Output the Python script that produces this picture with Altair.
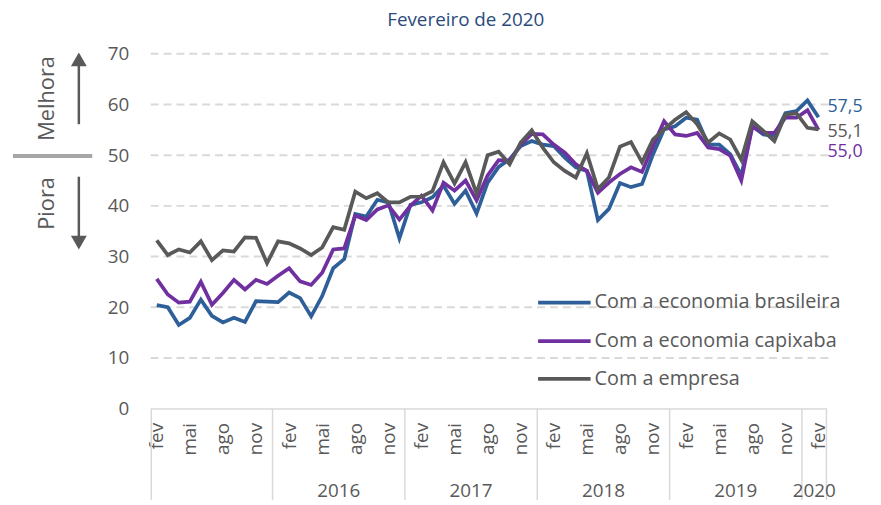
import altair as alt
import pandas as pd

# ---------------- data ----------------
month_names = ["jan", "fev", "mar", "abr", "mai", "jun", "jul", "ago", "set", "out", "nov", "dez"]
first_month_offset = 1  # index 0 = fev/2015
tick_index = list(range(0, 61, 3))

series_names = ["Com a economia brasileira", "Com a economia capixaba", "Com a empresa"]
series_colors = ["#2e5f98", "#7030a0", "#595959"]

brasileira = [20.4, 20.0, 16.5, 17.9, 21.5, 18.3, 17.0, 17.9, 17.1, 21.2, 21.1,
              21.0, 22.9, 21.8, 18.2, 22.2, 27.7, 29.5, 38.4, 37.9, 41.2, 40.7, 33.6,
              40.2, 40.7, 41.7, 44.0, 40.4, 43.0, 38.5, 44.6, 47.7, 49.2, 51.8, 52.8,
              52.1, 51.8, 49.5, 47.6, 46.9, 37.2, 39.4, 44.5, 43.7, 44.3, 50.2, 55.1,
              55.7, 57.4, 57.0, 52.1, 52.1, 50.2, 46.0, 55.7, 54.1, 53.8, 58.3, 58.7,
              60.8, 57.5]
capixaba = [25.6, 22.5, 20.9, 21.1, 25.0, 20.5, 22.8, 25.4, 23.5, 25.4, 24.6,
            26.2, 27.7, 25.1, 24.4, 26.8, 31.4, 31.6, 38.1, 37.2, 39.3, 40.1, 37.3,
            40.0, 42.0, 39.1, 44.6, 43.0, 45.0, 41.1, 46.0, 49.0, 48.9, 52.1, 54.2,
            54.1, 52.1, 50.5, 48.2, 46.9, 42.6, 44.6, 46.3, 47.6, 46.7, 51.8, 56.7,
            54.1, 53.8, 54.4, 51.5, 51.2, 49.9, 45.0, 55.7, 54.4, 54.4, 57.4, 57.4,
            58.9, 55.0]
empresa = [33.2, 30.3, 31.4, 30.8, 33.0, 29.3, 31.2, 31.0, 33.8, 33.7, 28.7,
           33.0, 32.6, 31.6, 30.3, 31.8, 35.8, 35.3, 42.8, 41.5, 42.5, 40.7, 40.7,
           41.8, 41.8, 42.9, 48.6, 44.4, 48.6, 42.4, 50.0, 50.7, 48.2, 52.5, 54.9,
           51.5, 48.6, 46.9, 45.6, 50.4, 43.3, 45.6, 51.7, 52.6, 48.6, 53.1, 55.1,
           57.0, 58.5, 56.1, 52.5, 54.3, 53.1, 49.1, 56.7, 54.8, 52.8, 58.0, 58.3,
           55.4, 55.1]
series_values = [brasileira, capixaba, empresa]

years = ["2016", "2017", "2018", "2019", "2020"]
year_bounds = [-0.5, 10.5, 22.5, 34.5, 46.5, 58.5, 60.72]
y_ticks = [0, 10, 20, 30, 40, 50, 60, 70]
grid_values = [10, 20, 30, 40, 50, 60, 70]

subtitle = "Fevereiro de 2020"
up_label = "Melhora"
down_label = "Piora"

FONT = "Open Sans"
TXT = "#595959"
X_DOMAIN = [-0.55, 60.72]

# ---------------- tables ----------------
rows = []
for name, vals in zip(series_names, series_values):
    for i, v in enumerate(vals):
        rows.append({"i": i, "v": v, "s": name})
df = pd.DataFrame(rows)

bounds_df = pd.DataFrame({"b": year_bounds})
years_df = pd.DataFrame({
    "c": [(year_bounds[k + 1] + year_bounds[k + 2]) / 2 for k in range(len(years))],
    "t": years,
})
grid_df = pd.DataFrame({"g": grid_values})

label_expr = "[" + ",".join("'%s'" % m for m in month_names) + "][(datum.value + %d) %% 12]" % first_month_offset

xscale = alt.Scale(domain=X_DOMAIN, nice=False, zero=False)
yscale = alt.Scale(domain=[0, 70], nice=False)

x_axis = alt.Axis(values=tick_index, labelExpr=label_expr, labelAngle=270, labelAlign="right",
                  labelBaseline="middle", labelFontSize=19, labelColor=TXT, labelFont=FONT,
                  labelPadding=14, domain=True, domainColor="#d9d9d9", domainWidth=1.5,
                  ticks=False, grid=False, title=None, labelOverlap=False, labelBound=False,
                  labelFlush=False)
y_axis = alt.Axis(values=y_ticks, labelFontSize=19, labelColor=TXT, labelFont=FONT,
                  labelPadding=22, domain=False, ticks=False, grid=False, title=None)


def X(field):
    return alt.X(field, scale=xscale, axis=x_axis)


def Y(field):
    return alt.Y(field, scale=yscale, axis=y_axis)


base = alt.Chart(df)

grid = alt.Chart(grid_df).mark_rule(color="#d9d9d9", strokeWidth=2, strokeDash=[8, 5]).encode(
    y=Y("g:Q"),
    x=alt.value(0), x2=alt.value(684),
)

layers = [grid]
for name, col in zip(series_names, series_colors):
    layers.append(
        base.transform_filter(alt.datum.s == name).mark_line(strokeWidth=3.75, color=col).encode(
            x=X("i:Q"),
            y=Y("v:Q"),
        )
    )

# year separators and year labels
seps = alt.Chart(bounds_df).mark_rule(color="#d9d9d9", strokeWidth=1.5).encode(
    x=X("b:Q"), y=alt.value(358), y2=alt.value(460)
)
ylabels = alt.Chart(years_df).mark_text(fontSize=19, color=TXT, font=FONT, baseline="middle").encode(
    x=X("c:Q"), y=alt.value(441), text="t:N"
)
layers += [seps, ylabels]

# end labels
end_y = {"Com a economia brasileira": 54, "Com a empresa": 79, "Com a economia capixaba": 99}
for name, col, vals in zip(series_names, series_colors, series_values):
    lab = ("%.1f" % vals[-1]).replace(".", ",")
    layers.append(
        alt.Chart(pd.DataFrame({"t": [lab]})).mark_text(
            fontSize=18, color=col, font=FONT, align="left", baseline="middle"
        ).encode(x=alt.value(683), y=alt.value(end_y[name]), text="t:N")
    )

# legend (drawn)
leg_y = [251, 290, 328]
for name, col, py in zip(series_names, series_colors, leg_y):
    ldf = pd.DataFrame({"t": [name]})
    layers.append(alt.Chart(ldf).mark_rule(color=col, strokeWidth=3.75).encode(
        x=alt.value(391), x2=alt.value(444), y=alt.value(py)))
    layers.append(alt.Chart(ldf).mark_text(fontSize=20, color=TXT, font=FONT, align="left",
                                           baseline="middle").encode(
        x=alt.value(448), y=alt.value(py), text="t:N"))

# subtitle
layers.append(alt.Chart(pd.DataFrame({"t": [subtitle]})).mark_text(
    fontSize=19, color="#2b4a7c", font=FONT, align="center", baseline="middle"
).encode(x=alt.value(318), y=alt.value(-34), text="t:N"))

# left annotation: Melhora / Piora with arrows
ann = pd.DataFrame({"t": [up_label]})
layers.append(alt.Chart(ann).mark_text(fontSize=22, color=TXT, font=FONT, angle=270,
                                       align="center", baseline="middle").encode(
    x=alt.value(-105), y=alt.value(45), text="t:N"))
layers.append(alt.Chart(pd.DataFrame({"t": [down_label]})).mark_text(
    fontSize=22, color=TXT, font=FONT, angle=270, align="center", baseline="middle").encode(
    x=alt.value(-105), y=alt.value(151), text="t:N"))
layers.append(alt.Chart(ann).mark_rule(color="#a6a6a6", strokeWidth=4).encode(
    x=alt.value(-139), x2=alt.value(-59), y=alt.value(103)))
layers.append(alt.Chart(ann).mark_rule(color=TXT, strokeWidth=2.5).encode(
    x=alt.value(-72.5), y=alt.value(10), y2=alt.value(71)))
layers.append(alt.Chart(ann).mark_rule(color=TXT, strokeWidth=2.5).encode(
    x=alt.value(-72.5), y=alt.value(124), y2=alt.value(186)))
layers.append(alt.Chart(ann).mark_point(shape="triangle-up", filled=True, size=256, color=TXT,
                                        opacity=1).encode(x=alt.value(-72.5), y=alt.value(5.5)))
layers.append(alt.Chart(ann).mark_point(shape="triangle-down", filled=True, size=256, color=TXT,
                                        opacity=1).encode(x=alt.value(-72.5), y=alt.value(190.5)))

chart = alt.layer(*layers).properties(
    width=682, height=358,
    autosize=alt.AutoSizeParams(type="none"),
    padding={"left": 144, "top": 44, "right": 47, "bottom": 90},
    background="white",
).configure_view(stroke=None)

chart.save("out.html", embed_options={"renderer": "svg", "actions": False})
